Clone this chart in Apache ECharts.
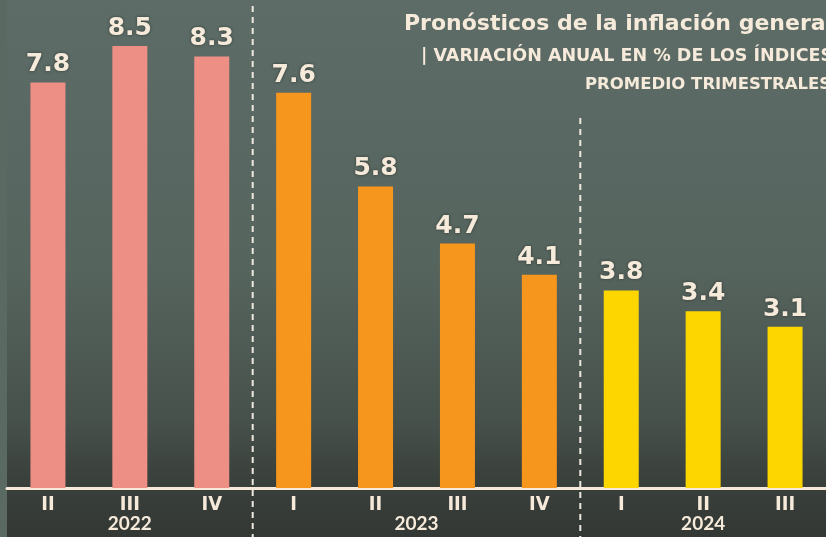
<!DOCTYPE html>
<html>
<head>
<meta charset="utf-8">
<script src="https://cdn.jsdelivr.net/npm/echarts@6/dist/echarts.min.js"></script>
<style>
  html, body { margin: 0; padding: 0; background: #4a5651; }
  #chart { width: 826px; height: 537px; }
</style>
</head>
<body>
<div id="chart"></div>
<script>
// datos
const quarters = ['II', 'III', 'IV', 'I', 'II', 'III', 'IV', 'I', 'II', 'III'];
const values = [7.8, 8.5, 8.3, 7.6, 5.8, 4.7, 4.1, 3.8, 3.4, 3.1];
const years = ['2022', '2023', '2024'];
const yearCenters = [1.5, 5, 8.5];   // posición central de cada año en el eje
const yearBreaks = [3, 7];           // separadores entre años
const barColors = ['#ee8f86', '#ee8f86', '#ee8f86', '#f7961d', '#f7961d', '#f7961d', '#f7961d', '#fdd600', '#fdd600', '#fdd600'];

const cream = '#f6eada';
const chart = echarts.init(document.getElementById('chart'));

const option = {
  animation: false,
  backgroundColor: {
    type: 'linear', x: 0, y: 0, x2: 0, y2: 1,
    colorStops: [
      { offset: 0, color: '#5d6c67' },
      { offset: 0.5, color: '#56645e' },
      { offset: 0.78, color: '#47514c' },
      { offset: 0.9, color: '#393f3b' },
      { offset: 1, color: '#333834' }
    ]
  },
  title: [
    {
      text: 'Pronósticos de la inflación general',
      left: 399, top: 8,
      textStyle: { color: cream, fontFamily: 'DejaVu Sans', fontWeight: 'bold', fontSize: 22 }
    },
    {
      text: '| VARIACIÓN ANUAL EN % DE LOS ÍNDICES',
      left: 416, top: 42,
      textStyle: { color: cream, fontFamily: 'DejaVu Sans', fontWeight: 'bold', fontSize: 17.5 }
    },
    {
      text: 'PROMEDIO TRIMESTRALES',
      left: 580, top: 71,
      textStyle: { color: cream, fontFamily: 'DejaVu Sans', fontWeight: 'bold', fontSize: 16.5 }
    }
  ],
  grid: { left: 7, right: -7, top: 0, bottom: 49 },
  xAxis: [
    {
      type: 'category',
      data: quarters,
      axisLine: { lineStyle: { color: cream, width: 3 } },
      axisTick: { show: false },
      axisLabel: {
        color: cream, fontFamily: 'DejaVu Sans Condensed', fontWeight: 'bold',
        fontSize: 20, margin: 7
      }
    },
    {
      type: 'value',
      position: 'bottom',
      min: 0, max: 10,
      axisLine: { show: false },
      axisTick: { show: false },
      splitLine: { show: false },
      axisLabel: {
        customValues: yearCenters,
        formatter: (v) => years[yearCenters.indexOf(v)],
        color: cream, fontFamily: 'Lato', fontWeight: 'bold',
        fontSize: 19, margin: 26
      }
    }
  ],
  yAxis: {
    type: 'value', min: 0, max: 9.385, show: false
  },
  series: [
    {
      type: 'bar',
      barWidth: 35,
      data: values.map((v, i) => ({ value: v, itemStyle: { color: barColors[i] } })),
      label: {
        show: true, position: 'top', distance: 5,
        color: cream, fontFamily: 'DejaVu Sans', fontWeight: 'bold', fontSize: 25,
        textShadowColor: 'rgba(30,35,32,0.7)', textShadowBlur: 3
      }
    }
  ]
};
chart.setOption(option);

// separadores de año punteados y franja izquierda
const graphics = [{
  type: 'rect', z: -1,
  shape: { x: 0, y: 0, width: 7, height: 537 },
  style: { fill: '#5b6963' }
}];
const tops = [6, 118];
yearBreaks.forEach((b, i) => {
  const x = chart.convertToPixel({ xAxisIndex: 1 }, b);
  graphics.push({
    type: 'line', z: 10,
    shape: { x1: x, y1: tops[i], x2: x, y2: 537 },
    style: { stroke: '#eee9df', lineWidth: 2, lineDash: [6, 5] }
  });
});
chart.setOption({ graphic: graphics });
</script>
</body>
</html>
